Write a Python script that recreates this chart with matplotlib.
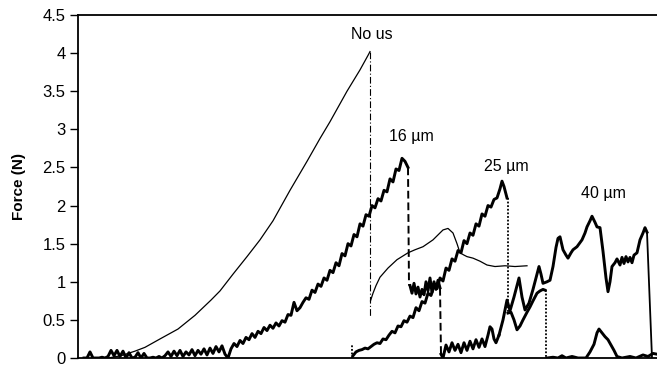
import matplotlib
matplotlib.use('Agg')
import matplotlib.pyplot as plt
import numpy as np

plt.rcParams['font.family'] = ['Liberation Sans', 'DejaVu Sans']

# Displacement axis is unlabelled in the source, arbitrary units 0..579

# No ultrasound: smooth rise, sudden failure
nous_x = [30, 43, 57, 67, 82, 100, 117, 133, 142, 155, 169, 182, 195, 212,
          229, 242, 252, 269, 282, 290, 292]
nous_y = [0.0, 0.03, 0.09, 0.14, 0.25, 0.38, 0.56, 0.76, 0.88, 1.1, 1.33,
          1.55, 1.8, 2.2, 2.58, 2.88, 3.1, 3.5, 3.78, 3.97, 4.02]
nous_drop_x = [292, 292]
nous_drop_y = [4.02, 0.55]
nous_tail_x = [292.5, 295, 298, 302, 310, 319, 330, 337, 345, 355, 365, 370,
               375, 379, 382, 386, 389, 395, 402, 409, 417, 427, 437, 449]
nous_tail_y = [0.75, 0.85, 0.95, 1.06, 1.18, 1.29, 1.38, 1.42, 1.46, 1.55,
               1.68, 1.7, 1.64, 1.5, 1.38, 1.35, 1.33, 1.31, 1.27, 1.22, 1.2,
               1.21, 1.2, 1.21]

# 16 um: noisy rise (even samples from x=6 to x=330)
um16_rise_y = [
    0.0, 0.0, 0.08, 0.0, 0.0, 0.0, 0.01, 0.0, 0.02, 0.1, 0.03, 0.1, 0.02,
    0.09, 0.0, 0.07, 0.0, 0.01, 0.07, 0.0, 0.06, 0.0, 0.0, 0.01, 0.0, 0.02,
    0.0, 0.03, 0.08, 0.02, 0.09, 0.03, 0.1, 0.02, 0.08, 0.04, 0.11, 0.03,
    0.1, 0.05, 0.12, 0.04, 0.13, 0.06, 0.15, 0.08, 0.16, 0.05,
    0.0, 0.12, 0.19, 0.15, 0.23, 0.19, 0.27, 0.24, 0.32, 0.27, 0.35, 0.32,
    0.4, 0.36, 0.43, 0.39, 0.46, 0.42, 0.49, 0.47, 0.57, 0.56, 0.73, 0.62,
    0.66, 0.73, 0.79, 0.77, 0.89, 0.86, 0.97, 0.94, 1.05, 1.02, 1.15, 1.12,
    1.25, 1.21, 1.37, 1.34, 1.5, 1.47, 1.62, 1.59, 1.76, 1.73, 1.88, 1.86,
    2.0, 1.97, 2.09, 2.06, 2.2, 2.18, 2.35, 2.31, 2.48, 2.46, 2.62, 2.58, 2.5]
um16_rise_x = np.linspace(6, 330, len(um16_rise_y))
um16_drop1_x = [330, 331]
um16_drop1_y = [2.5, 0.95]
um16_mid_y = [0.95, 0.85, 0.98, 0.84, 0.93, 0.8, 0.9, 0.83, 1.0, 0.88,
              1.05, 0.86, 1.0, 0.9, 1.02, 0.92]
um16_mid_x = np.linspace(332, 362, len(um16_mid_y))
um16_drop2_x = [362, 363]
um16_drop2_y = [0.92, 0.05]
um16_low_x = [363, 365, 368, 371, 374, 377, 380, 383, 386, 389, 392, 395,
              398, 401, 404, 407, 410, 412, 414, 416, 418, 421]
um16_low_y = [0.05, 0.0, 0.17, 0.08, 0.2, 0.1, 0.18, 0.07, 0.2, 0.1, 0.22,
              0.12, 0.24, 0.14, 0.25, 0.15, 0.3, 0.41, 0.38, 0.25, 0.2, 0.3]

# 40 um
um40_x = [421, 425, 429, 432, 436, 439, 441, 444, 447, 451, 455, 459, 461,
          463, 465, 469, 472, 475, 478, 480, 482, 485, 488, 490, 493, 495,
          499, 504, 507, 509, 512, 514, 517, 519, 522, 525, 528, 530, 532,
          534, 537, 539, 542, 544, 546, 548, 550, 552, 554, 556, 559, 562,
          565, 567, 569, 574]
um40_y = [0.3, 0.5, 0.76, 0.62, 0.8, 0.95, 1.05, 0.8, 0.63, 0.72, 0.9, 1.1,
          1.2, 1.1, 0.98, 1.0, 1.02, 1.2, 1.45, 1.57, 1.59, 1.42, 1.35, 1.31,
          1.38, 1.42, 1.46, 1.55, 1.64, 1.72, 1.8, 1.86, 1.78, 1.72, 1.71,
          1.4, 1.05, 0.87, 1.0, 1.2, 1.25, 1.3, 1.22, 1.32, 1.24, 1.33, 1.26,
          1.32, 1.25, 1.35, 1.38, 1.55, 1.64, 1.71, 1.65, 0.0]

# 25 um
um25_start_x = [274, 274]
um25_start_y = [0.0, 0.18]
um25_rise_x = [275, 278, 281, 284, 287, 290, 293, 296, 299, 302, 305, 308,
               311, 314, 317, 320, 323, 326, 329, 332, 335, 338, 341, 344,
               347, 350, 353, 356, 359, 362, 365, 368, 371, 374, 377, 380,
               383, 386, 389, 392, 395, 398, 401, 404, 407, 410, 413, 416,
               419, 422, 424, 426, 429]
um25_rise_y = [0.03, 0.08, 0.1, 0.11, 0.13, 0.12, 0.15, 0.18, 0.2, 0.19,
               0.25, 0.24, 0.3, 0.35, 0.33, 0.42, 0.41, 0.49, 0.47, 0.55, 0.53,
               0.66, 0.62, 0.74, 0.72, 0.85, 0.82, 0.94, 0.91, 1.05, 1.01, 1.18,
               1.15, 1.3, 1.27, 1.41, 1.38, 1.54, 1.5, 1.64, 1.61, 1.76, 1.73,
               1.89, 1.86, 2.0, 1.98, 2.08, 2.1, 2.22, 2.32, 2.25, 2.1]
um25_drop1_x = [430, 430]
um25_drop1_y = [2.1, 0.59]
um25_mid_x = [430, 433, 436, 439, 442, 445, 449, 452, 455, 459, 462, 465, 467]
um25_mid_y = [0.59, 0.6, 0.5, 0.37, 0.42, 0.5, 0.6, 0.67, 0.75, 0.85, 0.88,
              0.9, 0.89]
um25_drop2_x = [468, 468]
um25_drop2_y = [0.89, 0.0]
um25_low_x = [469, 475, 480, 484, 488, 494, 500, 508, 512, 516, 519, 521,
              524, 527, 530, 533, 536, 539, 544, 552, 558, 565, 570, 575, 579]
um25_low_y = [0.0, 0.01, 0.0, 0.03, 0.0, 0.02, 0.0, 0.0, 0.08, 0.18, 0.33,
              0.38, 0.33, 0.28, 0.24, 0.17, 0.1, 0.02, 0.0, 0.02, 0.0, 0.04,
              0.02, 0.06, 0.05]

labels = ['No us', '16 \u00b5m', '25 \u00b5m', '40 \u00b5m']
label_x = [294, 333, 428, 525]
label_y = [4.24, 2.9, 2.51, 2.16]

fig = plt.figure(figsize=(6.57, 3.74), dpi=100)
ax = fig.add_axes([78 / 657, 16 / 374, 579 / 657, 343 / 374])

thick = dict(color='black', lw=2.1, solid_joinstyle='round')

# No us
ax.plot(nous_x, nous_y, color='black', lw=0.9)
ax.plot(nous_drop_x, nous_drop_y, color='black', lw=0.8, ls=(0, (6, 2, 1, 2)))
ax.plot(nous_tail_x, nous_tail_y, color='black', lw=0.9)

# 16 um / 40 um
ax.plot(um16_rise_x, um16_rise_y, **thick)
ax.plot(um16_drop1_x, um16_drop1_y, color='black', lw=1.4, ls=(0, (4, 2)))
ax.plot(um16_mid_x, um16_mid_y, **thick)
ax.plot(um16_drop2_x, um16_drop2_y, color='black', lw=1.4, ls=(0, (4, 2)))
ax.plot(um16_low_x, um16_low_y, **thick)
ax.plot(um40_x[:-1], um40_y[:-1], **thick)
ax.plot(um40_x[-2:], um40_y[-2:], color='black', lw=1.3)

# 25 um
ax.plot(um25_start_x, um25_start_y, color='black', lw=1.3, ls=(0, (1, 1)))
ax.plot(um25_rise_x, um25_rise_y, **thick)
ax.plot(um25_drop1_x, um25_drop1_y, color='black', lw=1.3, ls=(0, (1, 1)))
ax.plot(um25_mid_x, um25_mid_y, **thick)
ax.plot(um25_drop2_x, um25_drop2_y, color='black', lw=1.3, ls=(0, (1, 1)))
ax.plot(um25_low_x, um25_low_y, **thick)

for t, x, y in zip(labels, label_x, label_y):
    ax.text(x, y, t, ha='center', va='center', fontsize=11.5)

ax.set_xlim(0, 579)
ax.set_ylim(0, 4.5)
ax.set_yticks(np.arange(0, 4.51, 0.5))
ax.set_yticklabels(['0', '0.5', '1', '1.5', '2', '2.5', '3', '3.5', '4', '4.5'])
ax.set_xticks([])
ax.tick_params(axis='y', direction='out', length=6, width=1, labelsize=12, pad=3)
ax.set_ylabel('Force (N)', fontsize=11, fontweight='bold', labelpad=12)

ax.spines['right'].set_visible(False)
for s in ['left', 'bottom', 'top']:
    ax.spines[s].set_linewidth(1.3)

fig.savefig('out.png', dpi=100)
